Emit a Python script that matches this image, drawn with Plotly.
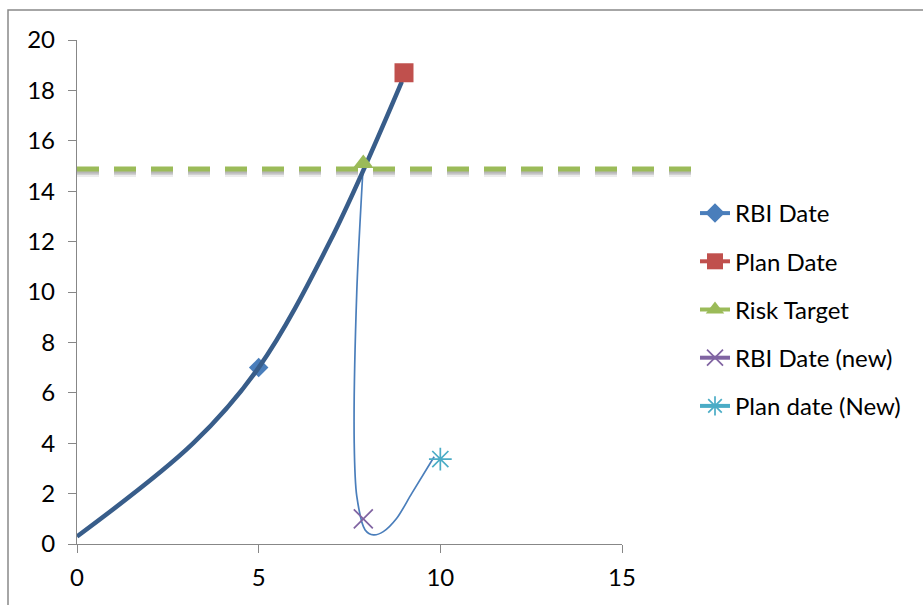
import plotly.graph_objects as go

# ---- data -------------------------------------------------------------
rbi_x = [5]
rbi_y = [7]
plan_x = [9]
plan_y = [18.7]
risk_x = [7.88]
risk_y = [15.1]
rbi_new_x = [7.88]
rbi_new_y = [1.0]
plan_new_x = [10]
plan_new_y = [3.37]

# RBI date growth curve
curve_x = [0, 3.2, 5.0, 6.96, 8.94]
curve_y = [0.3, 4, 7, 12, 18.35]

# path linking risk target -> new RBI date -> new plan date
link_x = [7.88, 7.70, 7.63, 7.70, 7.93, 8.16, 8.43, 8.80, 9.21, 9.83]
link_y = [15.1, 10, 4, 1.9, 0.56, 0.36, 0.49, 1.02, 2.0, 3.46]

# risk target level line
target_x = [0, 16.9]
target_y = [14.88, 14.88]

x_ticks = [0, 5, 10, 15]
y_ticks = [0, 2, 4, 6, 8, 10, 12, 14, 16, 18, 20]

# ---- layout geometry ---------------------------------------------------
W, H = 923, 605
ML, MR, MT, MB = 77, 223, 40, 61
plot_w = W - ML - MR
plot_h = H - MT - MB
axis_w = 545                      # width of the gridded axis area (0..15)
x_max = 15
x2_max = x_max * plot_w / axis_w  # wider overlay axis with identical scale

GRID = "#878787"
FONT = "Lato"
FS = 24

fig = go.Figure()

# invisible anchor so the main subplot is created
fig.add_trace(go.Scatter(x=[0], y=[0], mode="markers", marker=dict(opacity=0),
                         showlegend=False, hoverinfo="skip",
                         xaxis="x", yaxis="y"))

# soft shadow + dashed risk target line
px_per_y = plot_h / 20
for off, alpha, wd in [(4, 0.10, 8), (3, 0.16, 6), (2.5, 0.18, 4)]:
    fig.add_trace(go.Scatter(
        x=target_x, y=[v - off / px_per_y for v in target_y], mode="lines",
        line=dict(color=f"rgba(70,70,70,{alpha})", width=wd, dash="22px,15px"),
        showlegend=False, hoverinfo="skip", xaxis="x2", yaxis="y2"))
fig.add_trace(go.Scatter(
    x=target_x, y=target_y, mode="lines",
    line=dict(color="#9BBB59", width=5, dash="22px,15px"),
    showlegend=False, hoverinfo="skip", xaxis="x2", yaxis="y2"))

# thin link curve
fig.add_trace(go.Scatter(
    x=link_x, y=link_y, mode="lines",
    line=dict(color="#4A7EBB", width=1.7, shape="spline", smoothing=0.8),
    showlegend=False, hoverinfo="skip", xaxis="x2", yaxis="y2"))

# legend series with markers
fig.add_trace(go.Scatter(
    x=rbi_x, y=rbi_y, mode="lines+markers", name="RBI Date",
    line=dict(color="#4A7EBB", width=4),
    marker=dict(symbol="diamond", size=15, color="#4A7EBB"),
    legendgroup="a", xaxis="x2", yaxis="y2"))

# main RBI date curve
fig.add_trace(go.Scatter(
    x=curve_x, y=curve_y, mode="lines",
    line=dict(color="#385D8A", width=4.5, shape="spline", smoothing=1.0),
    showlegend=False, hoverinfo="skip", xaxis="x2", yaxis="y2"))

fig.add_trace(go.Scatter(
    x=plan_x, y=plan_y, mode="lines+markers", name="Plan Date",
    line=dict(color="#C0504D", width=4),
    marker=dict(symbol="square", size=19, color="#C0504D"),
    legendgroup="b", xaxis="x2", yaxis="y2"))
fig.add_trace(go.Scatter(
    x=risk_x, y=risk_y, mode="lines+markers", name="Risk Target",
    line=dict(color="#9BBB59", width=4),
    marker=dict(symbol="triangle-up", size=18, color="#9BBB59"),
    legendgroup="c", xaxis="x2", yaxis="y2"))
fig.add_trace(go.Scatter(
    x=rbi_new_x, y=rbi_new_y, mode="lines+markers", name="RBI Date (new)",
    line=dict(color="#8064A2", width=4),
    marker=dict(symbol="x-thin-open", size=19,
                line=dict(color="#8064A2", width=1.7)),
    legendgroup="d", xaxis="x2", yaxis="y2"))
fig.add_trace(go.Scatter(
    x=plan_new_x, y=plan_new_y, mode="lines+markers", name="Plan date (New)",
    line=dict(color="#4BACC6", width=4),
    marker=dict(symbol="asterisk-open", size=19,
                line=dict(color="#4BACC6", width=1.7)),
    legendgroup="e", xaxis="x2", yaxis="y2"))

# outer chart frame
fig.add_shape(type="rect", xref="paper", yref="paper",
              x0=(8 - ML) / plot_w, x1=1.6,
              y0=-0.3, y1=(H - MB - 10) / plot_h,
              line=dict(color="#898989", width=1.5), layer="below")

fig.update_layout(
    width=W, height=H,
    margin=dict(l=ML, r=MR, t=MT, b=MB),
    paper_bgcolor="white", plot_bgcolor="white",
    font=dict(family=FONT, size=FS, color="#000000"),
    showlegend=True,
    legend=dict(x=(695 - ML) / plot_w, y=(H - MB - 191) / plot_h,
                xanchor="left", yanchor="top",
                font=dict(family=FONT, size=FS),
                traceorder="grouped", tracegroupgap=14,
                itemsizing="trace", bgcolor="rgba(0,0,0,0)"),
    xaxis=dict(domain=[0, axis_w / plot_w], range=[0, x_max],
               tickvals=x_ticks, ticks="outside", ticklen=8, tickwidth=1.3,
               tickcolor=GRID, showgrid=False, zeroline=False,
               showline=True, linecolor=GRID, linewidth=1.3,
               ticklabelstandoff=4,
               tickfont=dict(family=FONT, size=FS), fixedrange=True),
    yaxis=dict(domain=[0, 1], range=[0, 20], tickvals=y_ticks,
               ticks="outside", ticklen=8, tickwidth=1.3, tickcolor=GRID,
               showgrid=True, gridcolor=GRID, gridwidth=1.3,
               zeroline=False, showline=True, linecolor=GRID, linewidth=1.3,
               ticklabelstandoff=8,
               tickfont=dict(family=FONT, size=FS), fixedrange=True),
    xaxis2=dict(domain=[0, 1], range=[0, x2_max], anchor="y2",
                visible=False, fixedrange=True),
    yaxis2=dict(domain=[0, 1], range=[0, 20], anchor="x2",
                visible=False, fixedrange=True),
)

fig.write_html("out.html")
